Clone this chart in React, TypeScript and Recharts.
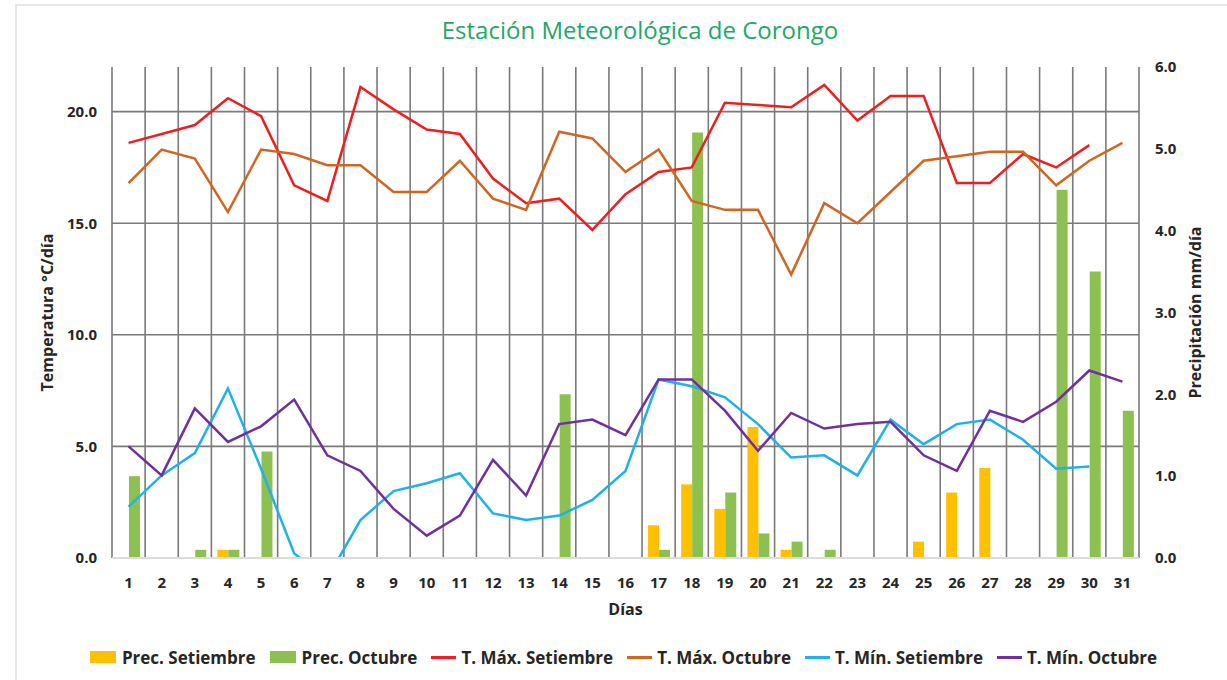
import React from "react";
import {
  ComposedChart,
  Bar,
  Line,
  XAxis,
  YAxis,
  CartesianGrid,
  Legend,
} from "recharts";

// Días del mes
const days = [
  "1", "2", "3", "4", "5", "6", "7", "8", "9", "10", "11", "12", "13", "14", "15", "16",
  "17", "18", "19", "20", "21", "22", "23", "24", "25", "26", "27", "28", "29", "30", "31",
];

// Precipitación (mm/día)
const precSetiembre = [
  null, null, null, 0.1, null, null, null, null, null, null, null, null, null, null, null, null,
  0.4, 0.9, 0.6, 1.6, 0.1, null, null, null, 0.2, 0.8, 1.1, null, null, null, null,
];
const precOctubre = [
  1.0, null, 0.1, 0.1, 1.3, null, null, null, null, null, null, null, null, 2.0, null, null,
  0.1, 5.2, 0.8, 0.3, 0.2, 0.1, null, null, null, null, null, null, 4.5, 3.5, 1.8,
];

// Temperaturas (°C)
const tMaxSetiembre = [
  18.6, 19.0, 19.4, 20.6, 19.8, 16.7, 16.0, 21.1, 20.1, 19.2, 19.0, 17.0, 15.9, 16.1, 14.7, 16.3,
  17.3, 17.5, 20.4, 20.3, 20.2, 21.2, 19.6, 20.7, 20.7, 16.8, 16.8, 18.1, 17.5, 18.5, null,
];
const tMaxOctubre = [
  16.8, 18.3, 17.9, 15.5, 18.3, 18.1, 17.6, 17.6, 16.4, 16.4, 17.8, 16.1, 15.6, 19.1, 18.8, 17.3,
  18.3, 16.0, 15.6, 15.6, 12.7, 15.9, 15.0, 16.4, 17.8, 18.0, 18.2, 18.2, 16.7, 17.8, 18.6,
];
const tMinSetiembre = [
  2.3, 3.7, 4.7, 7.6, 4.0, 0.2, -0.9, 1.7, 3.0, 3.35, 3.8, 2.0, 1.7, 1.9, 2.6, 3.9,
  8.0, 7.7, 7.2, 6.0, 4.5, 4.6, 3.7, 6.2, 5.1, 6.0, 6.2, 5.3, 4.0, 4.1, null,
];
const tMinOctubre = [
  5.0, 3.7, 6.7, 5.2, 5.9, 7.1, 4.6, 3.9, 2.2, 1.0, 1.9, 4.4, 2.8, 6.0, 6.2, 5.5,
  8.0, 8.0, 6.6, 4.8, 6.5, 5.8, 6.0, 6.1, 4.6, 3.9, 6.6, 6.1, 7.0, 8.4, 7.9,
];

const seriesNames = [
  "Prec. Setiembre",
  "Prec. Octubre",
  "T. Máx. Setiembre",
  "T. Máx. Octubre",
  "T. Mín. Setiembre",
  "T. Mín. Octubre",
];

const tempTicks = [0, 5, 10, 15, 20];
const tempMax = 22;
const precTicks = [0, 1, 2, 3, 4, 5, 6];

const data = days.map((d, i) => ({
  dia: d,
  precSet: precSetiembre[i],
  precOct: precOctubre[i],
  tMaxSet: tMaxSetiembre[i],
  tMaxOct: tMaxOctubre[i],
  tMinSet: tMinSetiembre[i],
  tMinOct: tMinOctubre[i],
}));

const FONT = "'Open Sans', sans-serif";
const TEXT = "#262626";

const renderLegend = (props: any) => {
  const payload = [...(props.payload || [])].sort(
    (a: any, b: any) => seriesNames.indexOf(a.value) - seriesNames.indexOf(b.value)
  );
  return (
    <div
      style={{
        display: "flex",
        justifyContent: "center",
        alignItems: "center",
        height: 30,
        paddingLeft: 34,
        fontFamily: FONT,
        fontWeight: 700,
        fontSize: 17,
        color: TEXT,
      }}
    >
      {payload.map((entry: any) => (
        <div
          key={entry.value}
          style={{ display: "flex", alignItems: "center", marginRight: 14 }}
        >
          {entry.type === "rect" ? (
            <span
              style={{ width: 26, height: 12, background: entry.color, marginRight: 6 }}
            />
          ) : (
            <span
              style={{ width: 25, height: 3, background: entry.color, marginRight: 5 }}
            />
          )}
          <span>{entry.value}</span>
        </div>
      ))}
    </div>
  );
};

const App = () => {
  return (
    <div
      style={{
        position: "absolute",
        left: 0,
        top: 0,
        width: 1227,
        height: 680,
        background: "#fff",
        overflow: "hidden",
        fontFamily: FONT,
      }}
    >
      {/* marco */}
      <div
        style={{
          position: "absolute",
          left: 15,
          top: 4,
          right: -10,
          bottom: -10,
          borderLeft: "2px solid #e8e8e8",
          borderTop: "2px solid #e8e8e8",
        }}
      />
      {/* Título */}
      <div
        style={{
          position: "absolute",
          top: 13,
          left: 0,
          width: 1280,
          textAlign: "center",
          fontSize: 24,
          color: "#22a868",
        }}
      >
        Estación Meteorológica de Corongo
      </div>

      <ComposedChart
        width={1227}
        height={680}
        data={data}
        margin={{ top: 67, right: 18, left: 30, bottom: 8 }}
        barCategoryGap="18%"
        barGap={0}
        style={{ position: "absolute", left: 0, top: 0 }}
      >
        <CartesianGrid
          yAxisId="temp"
          stroke="#7a7a7a"
          strokeWidth={1.6}
          horizontalCoordinatesGenerator={({ offset }: any) =>
            tempTicks
              .filter((v) => v > 0)
              .map((v) => offset.top + offset.height * (1 - v / tempMax))
          }
          verticalCoordinatesGenerator={({ offset }: any) =>
            [...days, ""].map((_, i) => offset.left + (i * offset.width) / days.length)
          }
        />
        <XAxis
          dataKey="dia"
          height={84}
          interval={0}
          tickLine={false}
          tickSize={0}
          tickMargin={19}
          axisLine={{ stroke: "#dcdcdc", strokeWidth: 2 }}
          tick={{ fill: TEXT, fontSize: 15, fontWeight: 700, fontFamily: FONT }}
          label={{
            value: "Días",
            position: "insideBottom",
            offset: 27,
            fill: TEXT,
            fontSize: 16,
            fontWeight: 700,
            fontFamily: FONT,
          }}
        />
        <YAxis
          yAxisId="temp"
          orientation="left"
          width={82}
          domain={[0, tempMax]}
          ticks={tempTicks}
          allowDataOverflow
          axisLine={false}
          tickLine={false}
          tickSize={0}
          tickMargin={15}
          tickFormatter={(v: number) => v.toFixed(1)}
          tick={{ fill: TEXT, fontSize: 15, fontWeight: 700, fontFamily: FONT }}
          label={{
            value: "Temperatura °C/día",
            angle: -90,
            position: "insideLeft",
            offset: 17,
            fill: TEXT,
            fontSize: 16,
            fontWeight: 700,
            fontFamily: FONT,
            style: { textAnchor: "middle" },
          }}
        />
        <YAxis
          yAxisId="prec"
          orientation="right"
          width={70}
          domain={[0, 6]}
          ticks={precTicks}
          axisLine={false}
          tickLine={false}
          tickSize={0}
          tickMargin={16}
          tickFormatter={(v: number) => v.toFixed(1)}
          tick={{ fill: TEXT, fontSize: 15, fontWeight: 700, fontFamily: FONT }}
          label={{
            value: "Precipitación mm/día",
            angle: -90,
            position: "insideRight",
            offset: 14,
            fill: TEXT,
            fontSize: 16,
            fontWeight: 700,
            fontFamily: FONT,
            style: { textAnchor: "middle" },
          }}
        />
        <Legend
          verticalAlign="bottom"
          content={renderLegend}
          wrapperStyle={{ left: 0, width: 1227 }}
        />

        <Bar yAxisId="prec" dataKey="precSet" name="Prec. Setiembre" fill="#ffc000" isAnimationActive={false} />
        <Bar yAxisId="prec" dataKey="precOct" name="Prec. Octubre" fill="#8cc152" isAnimationActive={false} />
        <Line yAxisId="temp" type="linear" dataKey="tMaxSet" name="T. Máx. Setiembre" stroke="#f01e1e" strokeWidth={2.5} dot={false} isAnimationActive={false} />
        <Line yAxisId="temp" type="linear" dataKey="tMaxOct" name="T. Máx. Octubre" stroke="#d2651f" strokeWidth={2.5} dot={false} isAnimationActive={false} />
        <Line yAxisId="temp" type="linear" dataKey="tMinSet" name="T. Mín. Setiembre" stroke="#1fb1ea" strokeWidth={2.5} dot={false} isAnimationActive={false} />
        <Line yAxisId="temp" type="linear" dataKey="tMinOct" name="T. Mín. Octubre" stroke="#7030a0" strokeWidth={2.5} dot={false} isAnimationActive={false} />
      </ComposedChart>
    </div>
  );
};

export default App;
